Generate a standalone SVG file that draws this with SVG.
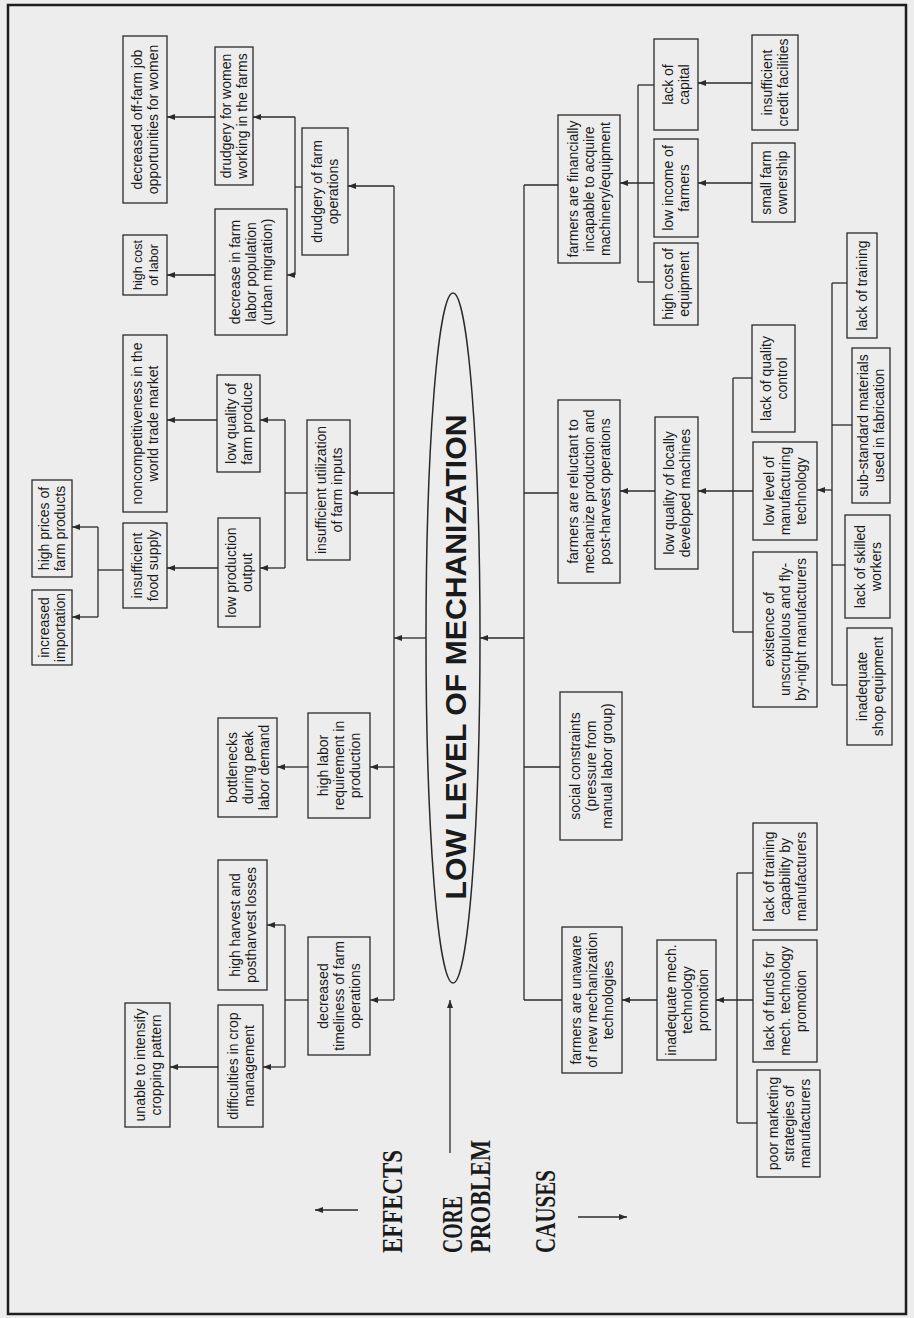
<svg xmlns="http://www.w3.org/2000/svg" width="914" height="1318" viewBox="0 0 914 1318">
<defs>
<style>
.bg{fill:#ededed}
.frame{fill:none;stroke:#1e1e1e;stroke-width:2.5}
.box{fill:none;stroke:#2a2a2a;stroke-width:1.3}
.lbl{font-family:"Liberation Sans",Arial,sans-serif;font-size:14px;fill:#1a1a1a;text-anchor:middle}
.sm{font-size:12.5px}
.ttl{font-family:"Liberation Serif","Times New Roman",serif;font-size:30px;font-weight:bold;fill:#1a1a1a}
.core{font-family:"Liberation Sans",Arial,sans-serif;font-size:30px;font-weight:bold;fill:#1a1a1a;text-anchor:middle}
.ln{fill:none;stroke:#2a2a2a;stroke-width:1.3}
.arr{marker-end:url(#ah)}
</style>
<marker id="ah" markerUnits="userSpaceOnUse" markerWidth="8" markerHeight="6" refX="8" refY="3" orient="auto">
<path d="M0,0 L8,3 L0,6 z" fill="#2a2a2a"/>
</marker>
</defs>
<rect class="bg" x="0" y="0" width="914" height="1318"/>
<rect class="frame" x="8" y="5" width="898" height="1309"/>

<!-- legend titles -->
<g id="legend">
<text class="ttl" transform="translate(402,1253) rotate(-90)" textLength="103" lengthAdjust="spacingAndGlyphs">EFFECTS</text>
<text class="ttl" transform="translate(462,1253) rotate(-90)" textLength="57" lengthAdjust="spacingAndGlyphs">CORE</text>
<text class="ttl" transform="translate(490,1253) rotate(-90)" textLength="113" lengthAdjust="spacingAndGlyphs">PROBLEM</text>
<text class="ttl" transform="translate(555,1253) rotate(-90)" textLength="83" lengthAdjust="spacingAndGlyphs">CAUSES</text>
</g>

<!-- core problem -->
<g id="core">
<ellipse cx="453" cy="638" rx="27" ry="345" fill="none" stroke="#2a2a2a" stroke-width="1.5"/>
<text class="core" transform="translate(455,657) rotate(-90)" y="11" textLength="485" lengthAdjust="spacingAndGlyphs">LOW LEVEL OF MECHANIZATION</text>
</g>

<!-- EFFECTS nodes -->
<g id="e_offfarm"><rect class="box" x="123" y="36" width="44" height="167"/><text class="lbl" transform="translate(145,119.5) rotate(-90)"><tspan x="0" y="-3">decreased off-farm job</tspan><tspan x="0" y="13">opportunities for women</tspan></text></g>
<g id="e_drudwomen"><rect class="box" x="215" y="47" width="38" height="138"/><text class="lbl" transform="translate(234,116) rotate(-90)"><tspan x="0" y="-3">drudgery for women</tspan><tspan x="0" y="13">working in the farms</tspan></text></g>
<g id="e_costlabor"><rect class="box" x="123" y="235" width="44" height="60"/><text class="lbl sm" transform="translate(145,265) rotate(-90)"><tspan x="0" y="-3">high cost</tspan><tspan x="0" y="13">of labor</tspan></text></g>
<g id="e_decfarm"><rect class="box" x="215" y="209" width="72" height="126"/><text class="lbl" transform="translate(251,272) rotate(-90)"><tspan x="0" y="-11">decrease in farm</tspan><tspan x="0" y="5">labor population</tspan><tspan x="0" y="21">(urban migration)</tspan></text></g>
<g id="e_drudfarm"><rect class="box" x="302" y="128" width="46" height="127"/><text class="lbl" transform="translate(325,191.5) rotate(-90)"><tspan x="0" y="-3">drudgery of farm</tspan><tspan x="0" y="13">operations</tspan></text></g>
<g id="e_noncomp"><rect class="box" x="123" y="335" width="44" height="177"/><text class="lbl" transform="translate(145,423.5) rotate(-90)"><tspan x="0" y="-3">noncompetitiveness in the</tspan><tspan x="0" y="13">world trade market</tspan></text></g>
<g id="e_lowqual"><rect class="box" x="217" y="375" width="43" height="97"/><text class="lbl" transform="translate(238.5,423.5) rotate(-90)"><tspan x="0" y="-3">low quality of</tspan><tspan x="0" y="13">farm produce</tspan></text></g>
<g id="e_lowprod"><rect class="box" x="218" y="518" width="42" height="109"/><text class="lbl" transform="translate(239,572.5) rotate(-90)"><tspan x="0" y="-3">low production</tspan><tspan x="0" y="13">output</tspan></text></g>
<g id="e_insutil"><rect class="box" x="307" y="420" width="43" height="140"/><text class="lbl" transform="translate(328.5,490) rotate(-90)"><tspan x="0" y="-3">insufficient utilization</tspan><tspan x="0" y="13">of farm inputs</tspan></text></g>
<g id="e_food"><rect class="box" x="123" y="523" width="44" height="85"/><text class="lbl" transform="translate(145,565.5) rotate(-90)"><tspan x="0" y="-3">insufficient</tspan><tspan x="0" y="13">food supply</tspan></text></g>
<g id="e_prices"><rect class="box" x="32" y="480" width="40" height="97"/><text class="lbl" transform="translate(52,528.5) rotate(-90)"><tspan x="0" y="-3">high prices of</tspan><tspan x="0" y="13">farm products</tspan></text></g>
<g id="e_import"><rect class="box" x="32" y="590" width="40" height="75"/><text class="lbl" transform="translate(52,627.5) rotate(-90)"><tspan x="0" y="-3">increased</tspan><tspan x="0" y="13">importation</tspan></text></g>
<g id="e_bottle"><rect class="box" x="218" y="718" width="59" height="99"/><text class="lbl" transform="translate(247.5,767.5) rotate(-90)"><tspan x="0" y="-11">bottlenecks</tspan><tspan x="0" y="5">during peak</tspan><tspan x="0" y="21">labor demand</tspan></text></g>
<g id="e_highlabor"><rect class="box" x="308" y="713" width="62" height="105"/><text class="lbl" transform="translate(339,765.5) rotate(-90)"><tspan x="0" y="-11">high labor</tspan><tspan x="0" y="5">requirement in</tspan><tspan x="0" y="21">production</tspan></text></g>
<g id="e_losses"><rect class="box" x="218" y="860" width="49" height="130"/><text class="lbl" transform="translate(242.5,925) rotate(-90)"><tspan x="0" y="-3">high harvest and</tspan><tspan x="0" y="13">postharvest losses</tspan></text></g>
<g id="e_timeliness"><rect class="box" x="308" y="937" width="62" height="118"/><text class="lbl" transform="translate(339,996) rotate(-90)"><tspan x="0" y="-11">decreased</tspan><tspan x="0" y="5">timeliness of farm</tspan><tspan x="0" y="21">operations</tspan></text></g>
<g id="e_cropmgmt"><rect class="box" x="218" y="1005" width="45" height="122"/><text class="lbl" transform="translate(240.5,1066) rotate(-90)"><tspan x="0" y="-3">difficulties in crop</tspan><tspan x="0" y="13">management</tspan></text></g>
<g id="e_intensify"><rect class="box" x="125" y="1003" width="45" height="124"/><text class="lbl" transform="translate(147.5,1065) rotate(-90)"><tspan x="0" y="-3">unable to intensify</tspan><tspan x="0" y="13">cropping pattern</tspan></text></g>

<!-- CAUSES nodes -->
<g id="c_financial"><rect class="box" x="558" y="115" width="62" height="148"/><text class="lbl" transform="translate(589,189) rotate(-90)"><tspan x="0" y="-11">farmers are financially</tspan><tspan x="0" y="5">incapable to acquire</tspan><tspan x="0" y="21">machinery/equipment</tspan></text></g>
<g id="c_capital"><rect class="box" x="654" y="39" width="44" height="91"/><text class="lbl" transform="translate(676,84.5) rotate(-90)"><tspan x="0" y="-3">lack of</tspan><tspan x="0" y="13">capital</tspan></text></g>
<g id="c_income"><rect class="box" x="654" y="139" width="44" height="98"/><text class="lbl" transform="translate(676,188) rotate(-90)"><tspan x="0" y="-3">low income of</tspan><tspan x="0" y="13">farmers</tspan></text></g>
<g id="c_costequip"><rect class="box" x="654" y="243" width="44" height="82"/><text class="lbl" transform="translate(676,284) rotate(-90)"><tspan x="0" y="-3">high cost of</tspan><tspan x="0" y="13">equipment</tspan></text></g>
<g id="c_credit"><rect class="box" x="752" y="35" width="46" height="95"/><text class="lbl" transform="translate(775,82.5) rotate(-90)"><tspan x="0" y="-3">insufficient</tspan><tspan x="0" y="13">credit facilities</tspan></text></g>
<g id="c_smallfarm"><rect class="box" x="752" y="143" width="43" height="79"/><text class="lbl" transform="translate(773.5,182.5) rotate(-90)"><tspan x="0" y="-3">small farm</tspan><tspan x="0" y="13">ownership</tspan></text></g>
<g id="c_training"><rect class="box" x="847" y="233" width="30" height="105"/><text class="lbl" transform="translate(862,285.5) rotate(-90)"><tspan x="0" y="5">lack of training</tspan></text></g>
<g id="c_qc"><rect class="box" x="752" y="325" width="43" height="107"/><text class="lbl" transform="translate(773.5,378.5) rotate(-90)"><tspan x="0" y="-3">lack of quality</tspan><tspan x="0" y="13">control</tspan></text></g>
<g id="c_substd"><rect class="box" x="852" y="348" width="38" height="155"/><text class="lbl" transform="translate(871,425.5) rotate(-90)"><tspan x="0" y="-3">sub-standard materials</tspan><tspan x="0" y="13">used in fabrication</tspan></text></g>
<g id="c_mfgtech"><rect class="box" x="753" y="442" width="64" height="98"/><text class="lbl" transform="translate(785,491) rotate(-90)"><tspan x="0" y="-11">low level of</tspan><tspan x="0" y="5">manufacturing</tspan><tspan x="0" y="21">technology</tspan></text></g>
<g id="c_skilled"><rect class="box" x="845" y="515" width="45" height="103"/><text class="lbl" transform="translate(867.5,566.5) rotate(-90)"><tspan x="0" y="-3">lack of skilled</tspan><tspan x="0" y="13">workers</tspan></text></g>
<g id="c_localmach"><rect class="box" x="655" y="417" width="43" height="152"/><text class="lbl" transform="translate(676.5,493) rotate(-90)"><tspan x="0" y="-3">low quality of locally</tspan><tspan x="0" y="13">developed machines</tspan></text></g>
<g id="c_reluctant"><rect class="box" x="558" y="400" width="62" height="183"/><text class="lbl" transform="translate(589,491.5) rotate(-90)"><tspan x="0" y="-11">farmers are reluctant to</tspan><tspan x="0" y="5">mechanize production and</tspan><tspan x="0" y="21">post-harvest operations</tspan></text></g>
<g id="c_flybynight"><rect class="box" x="753" y="552" width="64" height="155"/><text class="lbl" transform="translate(785,629.5) rotate(-90)"><tspan x="0" y="-11">existence of</tspan><tspan x="0" y="5">unscrupulous and fly-</tspan><tspan x="0" y="21">by-night manufacturers</tspan></text></g>
<g id="c_shop"><rect class="box" x="847" y="628" width="45" height="117"/><text class="lbl" transform="translate(869.5,686.5) rotate(-90)"><tspan x="0" y="-3">inadequate</tspan><tspan x="0" y="13">shop equipment</tspan></text></g>
<g id="c_social"><rect class="box" x="560" y="692" width="62" height="148"/><text class="lbl" transform="translate(591,766) rotate(-90)"><tspan x="0" y="-11">social constraints</tspan><tspan x="0" y="5">(pressure from</tspan><tspan x="0" y="21">manual labor group)</tspan></text></g>
<g id="c_unaware"><rect class="box" x="562" y="927" width="60" height="146"/><text class="lbl" transform="translate(592,1000) rotate(-90)"><tspan x="0" y="-11">farmers are unaware</tspan><tspan x="0" y="5">of new mechanization</tspan><tspan x="0" y="21">technologies</tspan></text></g>
<g id="c_promo"><rect class="box" x="657" y="940" width="59" height="120"/><text class="lbl" transform="translate(686.5,1000) rotate(-90)"><tspan x="0" y="-11">inadequate mech.</tspan><tspan x="0" y="5">technology</tspan><tspan x="0" y="21">promotion</tspan></text></g>
<g id="c_trainingcap"><rect class="box" x="753" y="823" width="64" height="107"/><text class="lbl" transform="translate(785,876.5) rotate(-90)"><tspan x="0" y="-11">lack of training</tspan><tspan x="0" y="5">capability by</tspan><tspan x="0" y="21">manufacturers</tspan></text></g>
<g id="c_funds"><rect class="box" x="753" y="940" width="64" height="122"/><text class="lbl" transform="translate(785,1001) rotate(-90)"><tspan x="0" y="-11">lack of funds for</tspan><tspan x="0" y="5">mech. technology</tspan><tspan x="0" y="21">promotion</tspan></text></g>
<g id="c_marketing"><rect class="box" x="757" y="1070" width="63" height="107"/><text class="lbl" transform="translate(788.5,1123.5) rotate(-90)"><tspan x="0" y="-11">poor marketing</tspan><tspan x="0" y="5">strategies of</tspan><tspan x="0" y="21">manufacturers</tspan></text></g>

<!-- connectors -->
<g id="connectors">
<line class="ln arr" x1="358" y1="1210" x2="315" y2="1210"/>
<line class="ln arr" x1="450" y1="1153" x2="450" y2="1000"/>
<line class="ln arr" x1="578" y1="1217" x2="627" y2="1217"/>

<line class="ln" x1="394" y1="186" x2="394" y2="1000"/>
<line class="ln arr" x1="394" y1="186" x2="348" y2="186"/>
<line class="ln arr" x1="394" y1="493" x2="350" y2="493"/>
<line class="ln arr" x1="426" y1="638" x2="394" y2="638"/>
<line class="ln arr" x1="394" y1="767" x2="370" y2="767"/>
<line class="ln arr" x1="394" y1="1000" x2="370" y2="1000"/>

<line class="ln" x1="302" y1="187" x2="295" y2="187"/>
<line class="ln" x1="295" y1="117" x2="295" y2="275"/>
<line class="ln arr" x1="295" y1="117" x2="253" y2="117"/>
<line class="ln arr" x1="295" y1="275" x2="287" y2="275"/>
<line class="ln arr" x1="215" y1="117" x2="167" y2="117"/>
<line class="ln arr" x1="215" y1="275" x2="167" y2="275"/>

<line class="ln" x1="307" y1="493" x2="285" y2="493"/>
<line class="ln" x1="285" y1="420" x2="285" y2="568"/>
<line class="ln arr" x1="285" y1="420" x2="260" y2="420"/>
<line class="ln arr" x1="285" y1="568" x2="260" y2="568"/>
<line class="ln arr" x1="217" y1="420" x2="167" y2="420"/>
<line class="ln arr" x1="218" y1="568" x2="167" y2="568"/>

<line class="ln" x1="123" y1="570" x2="98" y2="570"/>
<line class="ln" x1="98" y1="527" x2="98" y2="617"/>
<line class="ln arr" x1="98" y1="527" x2="72" y2="527"/>
<line class="ln arr" x1="98" y1="617" x2="72" y2="617"/>

<line class="ln arr" x1="308" y1="767" x2="277" y2="767"/>

<line class="ln" x1="308" y1="1000" x2="285" y2="1000"/>
<line class="ln" x1="285" y1="925" x2="285" y2="1067"/>
<line class="ln arr" x1="285" y1="925" x2="267" y2="925"/>
<line class="ln arr" x1="285" y1="1067" x2="263" y2="1067"/>
<line class="ln arr" x1="218" y1="1067" x2="170" y2="1067"/>

<line class="ln" x1="524" y1="185" x2="524" y2="1000"/>
<line class="ln" x1="558" y1="185" x2="524" y2="185"/>
<line class="ln" x1="558" y1="493" x2="524" y2="493"/>
<line class="ln arr" x1="524" y1="638" x2="480" y2="638"/>
<line class="ln" x1="560" y1="767" x2="524" y2="767"/>
<line class="ln" x1="562" y1="1000" x2="524" y2="1000"/>

<line class="ln" x1="638" y1="85" x2="638" y2="282"/>
<line class="ln" x1="638" y1="85" x2="654" y2="85"/>
<line class="ln" x1="638" y1="282" x2="654" y2="282"/>
<line class="ln arr" x1="654" y1="183" x2="620" y2="183"/>
<line class="ln arr" x1="752" y1="83" x2="698" y2="83"/>
<line class="ln arr" x1="752" y1="183" x2="698" y2="183"/>

<line class="ln" x1="832" y1="283" x2="832" y2="685"/>
<line class="ln" x1="832" y1="283" x2="847" y2="283"/>
<line class="ln" x1="832" y1="425" x2="852" y2="425"/>
<line class="ln" x1="832" y1="565" x2="845" y2="565"/>
<line class="ln" x1="832" y1="685" x2="847" y2="685"/>
<line class="ln arr" x1="832" y1="490" x2="817" y2="490"/>

<line class="ln" x1="733" y1="378" x2="733" y2="632"/>
<line class="ln" x1="733" y1="378" x2="752" y2="378"/>
<line class="ln" x1="733" y1="632" x2="753" y2="632"/>
<line class="ln arr" x1="753" y1="491" x2="698" y2="491"/>
<line class="ln arr" x1="655" y1="491" x2="620" y2="491"/>

<line class="ln" x1="737" y1="873" x2="737" y2="1123"/>
<line class="ln" x1="737" y1="873" x2="753" y2="873"/>
<line class="ln" x1="737" y1="1123" x2="757" y2="1123"/>
<line class="ln arr" x1="753" y1="1000" x2="716" y2="1000"/>
<line class="ln arr" x1="657" y1="1000" x2="622" y2="1000"/>
</g>
</svg>
